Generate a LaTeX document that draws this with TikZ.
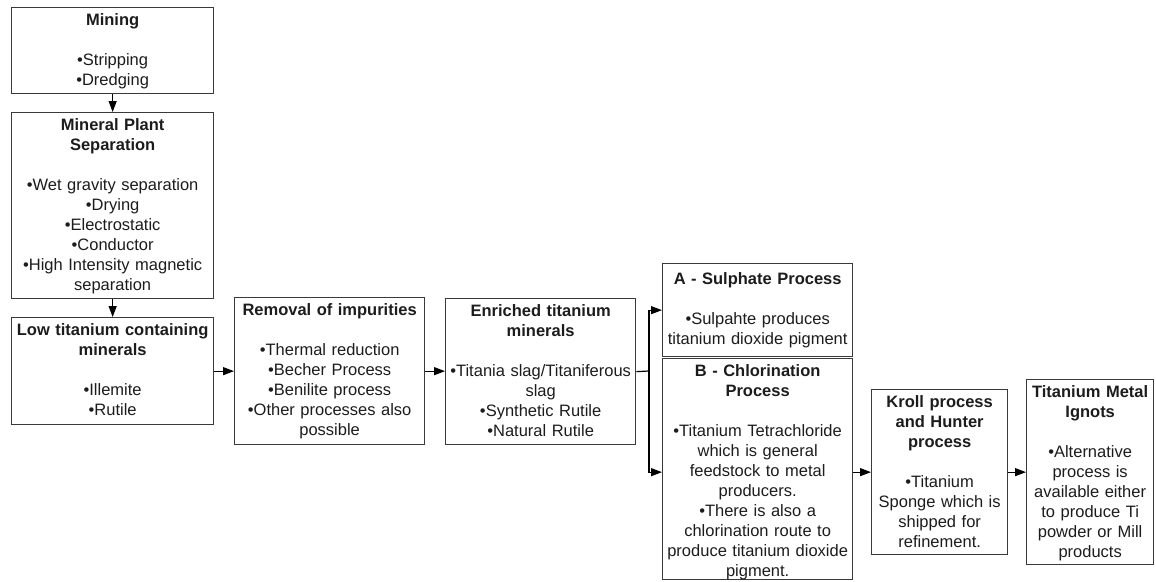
\documentclass[tikz,border=0pt]{standalone}
\usepackage{fontspec}
\setmainfont{Liberation Sans}
\usetikzlibrary{arrows.meta}
\definecolor{inkgray}{HTML}{1C1C1C}
\definecolor{edgegray}{HTML}{3A3A3A}
\begin{document}
\begin{tikzpicture}[x=1pt,y=-1pt,
  stagebox/.style={draw=edgegray, line width=1.3pt, anchor=north west, inner sep=0pt},
  stagetext/.style={anchor=north, align=center, inner xsep=0pt, inner ysep=4pt,
    text=inkgray, font=\fontsize{16.5pt}{20pt}\selectfont},
  flow/.style={draw=black, line width=1.2pt},
  arr/.style={flow, -{Triangle[length=11pt,width=8pt]}}]
\useasboundingbox (0,0) rectangle (1156,581);

% --- stage boxes ---
\node[stagebox, minimum width=202pt, minimum height=86pt]  (mining)   at (11,7) {};
\node[stagebox, minimum width=202pt, minimum height=186pt] (plant)    at (11,112) {};
\node[stagebox, minimum width=202pt, minimum height=107pt] (low)      at (11,317) {};
\node[stagebox, minimum width=190pt, minimum height=147pt] (removal)  at (234,297) {};
\node[stagebox, minimum width=190pt, minimum height=146pt] (enriched) at (445,298) {};
\node[stagebox, minimum width=190pt, minimum height=93pt]  (sulph)    at (662,263) {};
\node[stagebox, minimum width=190pt, minimum height=221pt] (chlor)    at (662,358) {};
\node[stagebox, minimum width=136pt, minimum height=165pt] (kroll)    at (871,389) {};
\node[stagebox, minimum width=127pt, minimum height=185pt] (ingot)    at (1026,379) {};

% --- stage texts ---
\node[stagetext, text width=202pt] (mining-t) at (mining.north)
  {\strut\textbf{Mining}\\[20pt]•Stripping\\•Dredging};
\node[stagetext, text width=202pt] (plant-t) at (plant.north)
  {\strut\textbf{Mineral Plant}\\\textbf{Separation}\\[20pt]•Wet gravity separation\\•Drying\\•Electrostatic\\•Conductor\\•High Intensity magnetic\\separation};
\node[stagetext, text width=202pt] (low-t) at (low.north)
  {\strut\textbf{Low titanium containing}\\\textbf{minerals}\\[20pt]•Illemite\\•Rutile};
\node[stagetext, text width=190pt] (removal-t) at (removal.north)
  {\strut\textbf{Removal of impurities}\\[20pt]•Thermal reduction\\•Becher Process\\•Benilite process\\•Other processes also\\possible};
\node[stagetext, text width=190pt] (enriched-t) at (enriched.north)
  {\strut\textbf{Enriched titanium}\\\textbf{minerals}\\[20pt]•Titania slag/Titaniferous\\slag\\•Synthetic Rutile\\•Natural Rutile};
\node[stagetext, text width=190pt, inner ysep=7pt] (sulph-t) at (sulph.north)
  {\strut\textbf{A - Sulphate Process}\\[20pt]•Sulpahte produces\\titanium dioxide pigment};
\node[stagetext, text width=190pt] (chlor-t) at (chlor.north)
  {\strut\textbf{B - Chlorination}\\\textbf{Process}\\[20pt]•Titanium Tetrachloride\\which is general\\feedstock to metal\\producers.\\•There is also a\\chlorination route to\\produce titanium dioxide\\pigment.};
\node[stagetext, text width=136pt] (kroll-t) at (kroll.north)
  {\strut\textbf{Kroll process}\\\textbf{and Hunter}\\\textbf{process}\\[20pt]•Titanium\\Sponge which is\\shipped for\\refinement.};
\node[stagetext, text width=127pt] (ingot-t) at (ingot.north)
  {\strut\textbf{Titanium Metal}\\\textbf{Ignots}\\[20pt]•Alternative\\process is\\available either\\to produce Ti\\powder or Mill\\products};

% --- connectors ---
\draw[arr] (mining.south) -- (plant.north);
\draw[arr] (plant.south) -- (low.north);
\draw[arr] (low.east) -- (low.east -| removal.west);
\draw[arr] (removal.east) -- (removal.east -| enriched.west);

\coordinate (fork) at (649,371);
\draw[flow] (enriched.east) -- (fork);
\draw[arr] (fork) |- (sulph.west);
\draw[arr] (fork) |- (chlor.west |- kroll.west);

\draw[arr] (kroll.west -| chlor.east) -- (kroll.west);
\draw[arr] (kroll.east) -- (kroll.east -| ingot.west);
\end{tikzpicture}
\end{document}
